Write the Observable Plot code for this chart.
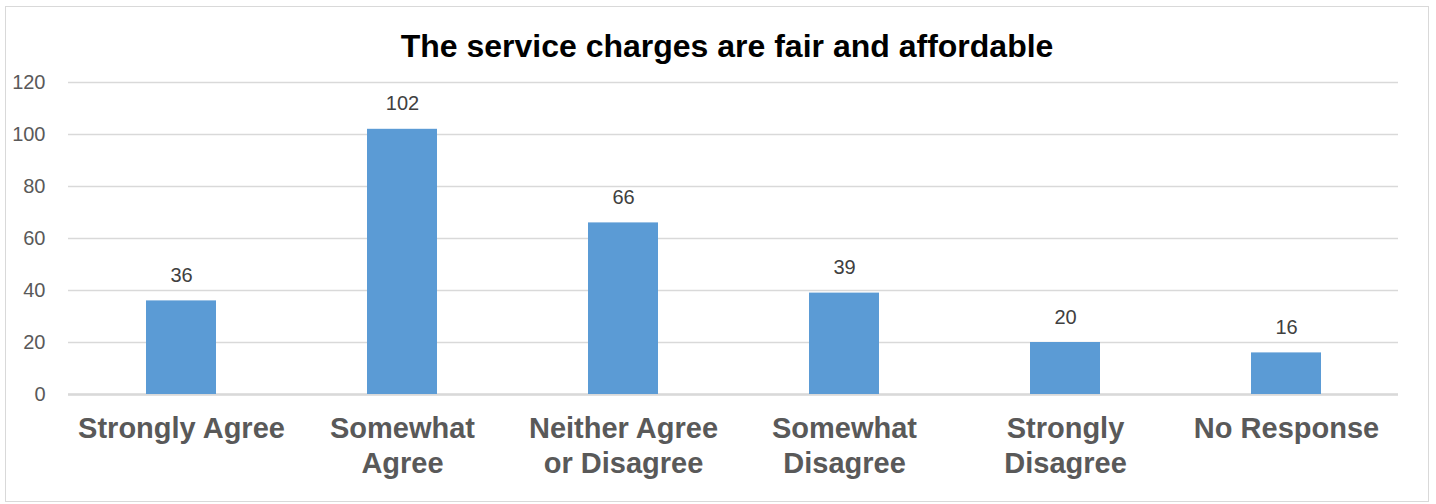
<!DOCTYPE html>
<html>
<head>
<meta charset="utf-8">
<script src="https://cdn.jsdelivr.net/npm/d3@7"></script>
<script src="https://cdn.jsdelivr.net/npm/@observablehq/plot@0.6"></script>
<style>
  html, body { margin: 0; padding: 0; background: #fff; }
  #wrap { position: relative; width: 1436px; height: 504px; overflow: hidden; font-family: "Liberation Sans", Arial, sans-serif; }
  #frame { position: absolute; left: 5px; top: 6px; width: 1424px; height: 496px; border: 1.5px solid #d9d9d9; box-sizing: border-box; }
  #title { position: absolute; left: 9px; top: 30px; width: 1436px; text-align: center; font-size: 32px; line-height: 32px; font-weight: bold; color: #000; }
  #chart { position: absolute; left: 0; top: 0; }
</style>
</head>
<body>
<div id="wrap">
  <div id="frame"></div>
  <div id="chart"></div>
  <div id="title"></div>
</div>
<script>
const titleText = "The service charges are fair and affordable";
const categories = ["Strongly Agree", "Somewhat Agree", "Neither Agree or Disagree", "Somewhat Disagree", "Strongly Disagree", "No Response"];
const values = [36, 102, 66, 39, 20, 16];
const tickLabels = ["Strongly Agree", "Somewhat\nAgree", "Neither Agree\nor Disagree", "Somewhat\nDisagree", "Strongly\nDisagree", "No Response"];
const yTicks = [0, 20, 40, 60, 80, 100, 120];

const data = categories.map((c, i) => ({category: c, value: values[i]}));
const labelOf = new Map(categories.map((c, i) => [c, tickLabels[i]]));

document.getElementById("title").textContent = titleText;

const chart = Plot.plot({
  width: 1436,
  height: 504,
  marginTop: 82,
  marginBottom: 110,
  marginLeft: 68,
  marginRight: 38,
  style: {fontFamily: "'Liberation Sans', Arial, sans-serif", background: "transparent", overflow: "visible"},
  x: {domain: categories, paddingInner: 0.684, paddingOuter: 0.342, align: 0.5},
  y: {domain: [0, 120]},
  marks: [
    Plot.gridY(yTicks, {stroke: "#d9d9d9", strokeOpacity: 1, strokeWidth: 1.5}),
    Plot.ruleY([0], {stroke: "#d9d9d9", strokeWidth: 2.5}),
    Plot.barY(data, {x: "category", y: "value", fill: "#5b9bd5"}),
    Plot.text(data, {x: "category", y: "value", text: d => String(d.value), dy: -19, lineAnchor: "bottom", fill: "#404040", fontSize: 20}),
    Plot.axisY({ticks: yTicks, tickSize: 0, tickPadding: 23, fontSize: 20, fill: "#595959", label: null}),
    Plot.axisX({tickSize: 0, tickPadding: 18.5, fontSize: 29, fontWeight: "bold", fill: "#595959", lineHeight: 1.2, tickFormat: d => labelOf.get(d), label: null})
  ]
});
document.getElementById("chart").appendChild(chart);
</script>
</body>
</html>
